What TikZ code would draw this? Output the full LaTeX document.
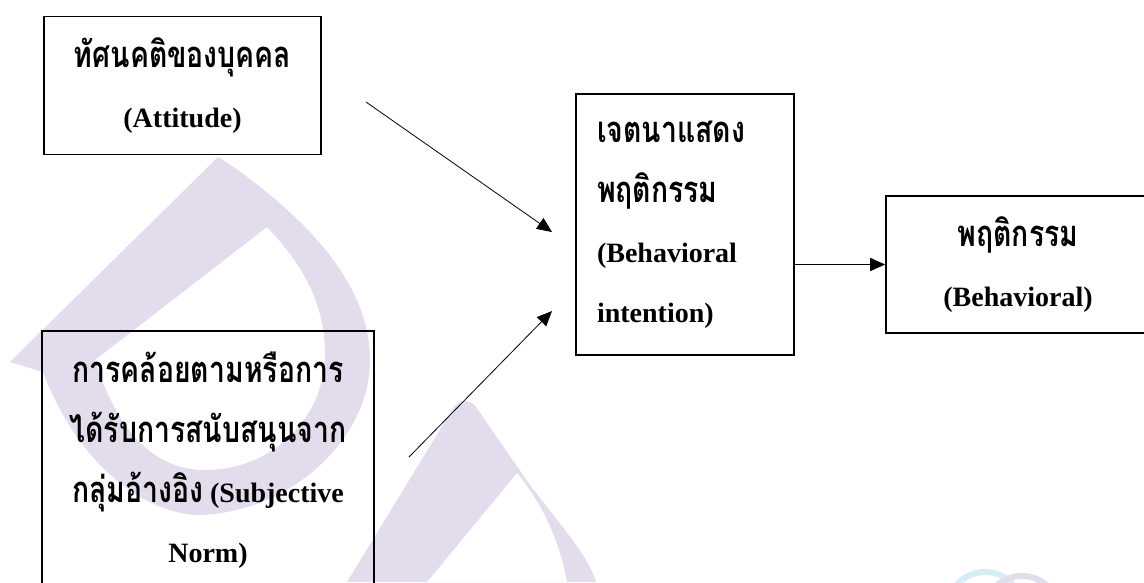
\documentclass[tikz,border=0pt]{standalone}
\usepackage{fontspec}
\setmainfont{Liberation Serif}
\newfontfamily\thaifont[Script=Thai, Scale=1.3, FakeStretch=0.78]{Loma}
\newcommand{\thtxt}[1]{{\thaifont #1}}
\usetikzlibrary{arrows.meta, positioning}
\definecolor{wmlav}{RGB}{226,220,237}
\definecolor{wmblue}{RGB}{214,236,246}

\begin{document}
\begin{tikzpicture}[x=1pt, y=-1pt,
        box/.style={draw, line width=1.6pt, inner sep=0pt,
          font=\bfseries\fontsize{28}{60}\selectfont},
        link/.style={-{Triangle[length=15pt,width=13pt]}, line width=0.8pt},
        wmark/.style={fill=wmlav, draw=none, even odd rule}
      ]
      \useasboundingbox (0,0) rectangle (1144,582);

      % watermark
      \path[wmark] (218,157) -- (10,362) -- (43,372)
        .. controls (80,470) and (150,515) .. (200,515)
        .. controls (290,512) and (370,440) .. (370,360)
        .. controls (370,280) and (300,215) .. (235,168) -- cycle
        (267,227) -- (95,360)
        .. controls (120,440) and (160,470) .. (205,470)
        .. controls (275,470) and (325,415) .. (325,355)
        .. controls (325,300) and (300,262) .. (267,227) -- cycle;
      \path[wmark] (347,582) -- (452,410)
        .. controls (458,398) and (472,398) .. (478,410) -- (530,485)
        .. controls (560,525) and (588,555) .. (596,582) -- cycle
        (427,582) -- (517,473)
        .. controls (540,500) and (560,540) .. (567,582) -- cycle;
      \draw[wmblue, line width=6pt] (985,610) circle (38);
      \draw[wmlav, line width=6pt] (1022,614) circle (38);

      \node[box, minimum width=277pt, minimum height=138pt, align=center] (att) at (182.5,85.5)
        {\thtxt{ทัศนคติของบุคคล}\\(Attitude)};
      \node[box, minimum width=332pt, minimum height=259pt, align=center] (norm) at (208,460.5)
        {\thtxt{การคล้อยตามหรือการ}\\\thtxt{ได้รับการสนับสนุนจาก}\\\thtxt{กลุ่มอ้างอิง} (Subjective\\Norm)};
      \node[box, text width=176pt, inner xsep=21pt, minimum height=261pt, align=left] (int) at (685,224.5)
        {\thtxt{เจตนาแสดง}\\\thtxt{พฤติกรรม}\\(Behavioral\\intention)};
      \node[box, minimum width=264pt, minimum height=137pt, align=center] (beh) at (1018,264.5)
        {\thtxt{พฤติกรรม}\\(Behavioral)};

      \coordinate (attout) at (366,102);
      \coordinate (attin) at (552,232);
      \coordinate (normout) at (409,457);
      \coordinate (normin) at (552,311);

      \path (attout) edge[link] (attin);
      \path (normout) edge[link] (normin);
      \path (int.east |- beh.west) edge[link, line width=1.3pt] (beh.west);
    \end{tikzpicture}
\end{document}
